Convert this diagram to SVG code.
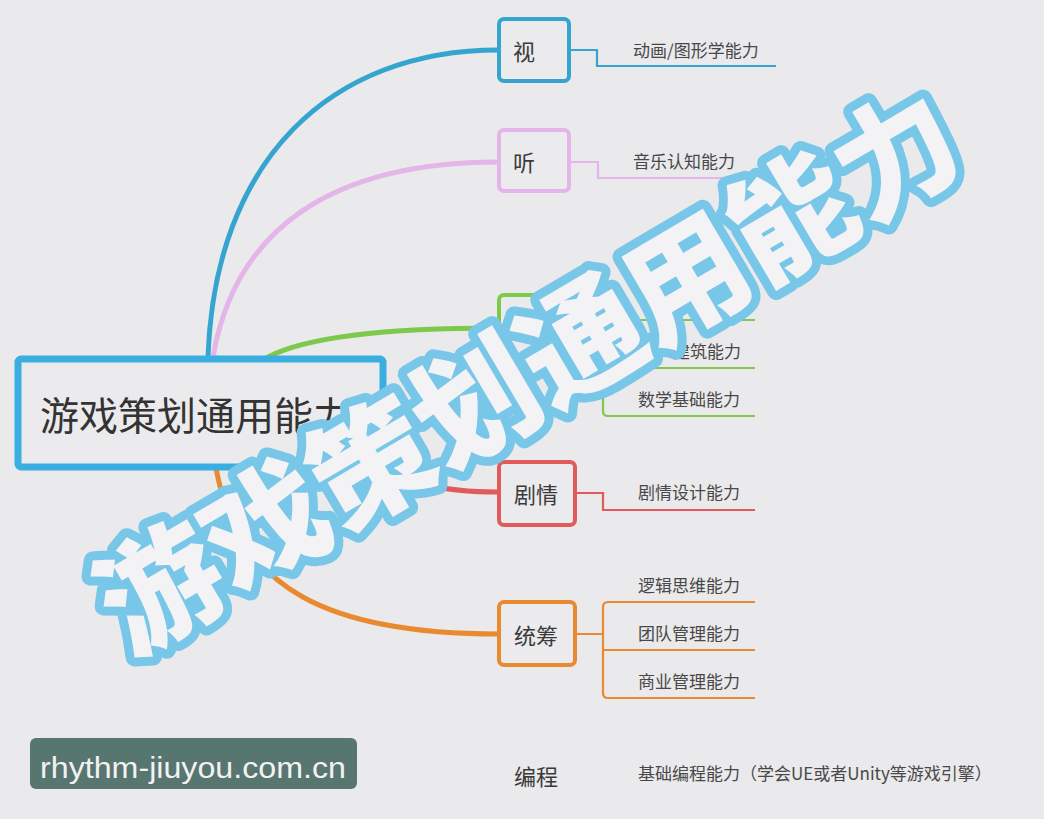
<svg xmlns="http://www.w3.org/2000/svg" width="1044" height="819" viewBox="0 0 1044 819">
<style>
.bg{fill:#eae9eb}
.box{fill:#ebeaec;stroke-width:4}
.lbl{font-family:"Noto Sans CJK SC","Noto Sans",sans-serif;fill:#3a3a3a;font-size:22px;text-anchor:middle;dominant-baseline:central}
.sub{font-family:"Noto Sans CJK SC","Noto Sans",sans-serif;fill:#484848;font-size:17px}
.cv{fill:none;stroke-width:5;stroke-linecap:round}
.br{fill:none;stroke-width:2.2}
.blue{stroke:#35a5cf}.pink{stroke:#e3b5e8}.green{stroke:#7ec94c}.red{stroke:#e15b5b}.orange{stroke:#e98a30}
.big{font-family:"Noto Sans CJK SC",sans-serif;font-weight:900;font-size:122px;fill:#f3f3f5;stroke:#78c6e8;stroke-width:18;stroke-linejoin:round;paint-order:stroke;text-anchor:middle;dominant-baseline:central}
</style>
<rect class="bg" x="0" y="0" width="1044" height="819"/>
<g id="connectors">
<path class="cv blue" d="M208,357 C215,160 330,50 499,50"/>
<path class="cv pink" d="M213,357 C235,230 330,162 499,162"/>
<path class="cv green" d="M268,357 C310,335 400,328 499,328"/>
<path class="cv red" d="M383,455 C410,485 440,492 499,492"/>
<path class="cv orange" d="M216,468 C238,590 330,634 499,634"/>
<path class="br blue" d="M569,50 H597 V66 H776"/>
<path class="br pink" d="M569,162 H598 V178 H740"/>
<path class="br green" d="M569,326 H603 M603,325 V411 Q603,416 608,416 H755 M603,368 H755 M603,325 Q603,320 608,320 H755"/>
<path class="br red" d="M575,493 H603 V510 H755"/>
<path class="br orange" d="M575,634 H603 M608,602 Q603,602 603,607 V693 Q603,698 608,698 H755 M608,602 H755 M603,650 H755"/>
</g>
<g id="central">
<rect x="18" y="359" width="365" height="108" rx="3" fill="#ebeaec" stroke="#3aaee0" stroke-width="7"/>
<text x="40" y="430" style="font-family:'Noto Sans CJK SC',sans-serif;font-size:39px;fill:#333">游戏策划通用能力</text>
</g>
<g id="node-shi">
<rect class="box blue" x="499" y="19" width="70" height="62" rx="5"/>
<text class="lbl" x="524" y="50">视</text>
<text class="sub" x="633" y="57">动画/图形学能力</text>
</g>
<g id="node-ting">
<rect class="box pink" x="499" y="130" width="70" height="61" rx="5"/>
<text class="lbl" x="524" y="161">听</text>
<text class="sub" x="633" y="168">音乐认知能力</text>
</g>
<g id="node-green">
<rect class="box green" x="499" y="295" width="70" height="62" rx="5"/>
<text class="sub" x="673" y="358">建筑能力</text>
<text class="sub" x="638" y="406">数学基础能力</text>
</g>
<g id="node-juqing">
<rect class="box red" x="499" y="462" width="76" height="63" rx="5"/>
<text class="lbl" x="536" y="493">剧情</text>
<text class="sub" x="638" y="499">剧情设计能力</text>
</g>
<g id="node-tongchou">
<rect class="box orange" x="499" y="602" width="76" height="63" rx="5"/>
<text class="lbl" x="536" y="634">统筹</text>
<text class="sub" x="638" y="592">逻辑思维能力</text>
<text class="sub" x="638" y="640">团队管理能力</text>
<text class="sub" x="638" y="688">商业管理能力</text>
</g>
<g id="node-biancheng">
<text class="lbl" x="536" y="775">编程</text>
<text class="sub" x="638" y="780">基础编程能力（学会UE或者Unity等游戏引擎）</text>
</g>
<g id="watermark">
<rect x="30" y="738" width="327" height="51" rx="6" fill="#587670"/>
<text x="40" y="778" textLength="306" lengthAdjust="spacingAndGlyphs" style="font-family:'Liberation Sans',sans-serif;font-size:30px;fill:#f2f2f2">rhythm-jiuyou.com.cn</text>
</g>
<g id="overlay">
<text class="big" x="524" y="364" transform="rotate(-30.5 524 364)">游戏策划通用能力</text>
</g>
</svg>
